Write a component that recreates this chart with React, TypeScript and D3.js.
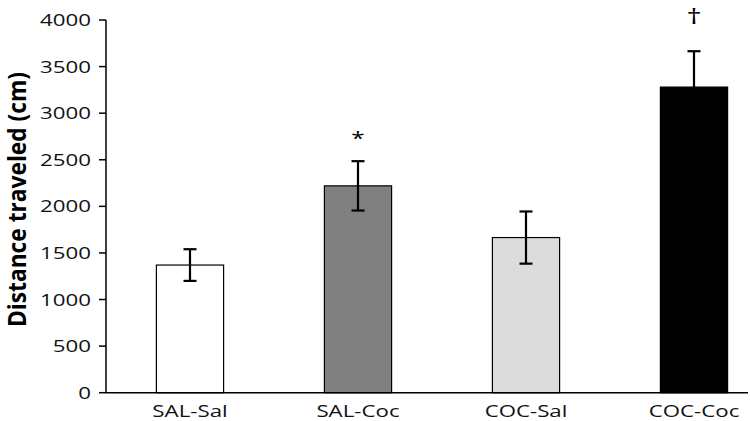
import React from "react";
import * as d3 from "d3";

const categories = ["SAL-Sal", "SAL-Coc", "COC-Sal", "COC-Coc"];
const means = [1370, 2220, 1665, 3280];
const errors = [170, 265, 280, 385];
const fills = ["#ffffff", "#808080", "#dcdcdc", "#000000"];
const marks = ["", "*", "", "†"];
const yTicks = [0, 500, 1000, 1500, 2000, 2500, 3000, 3500, 4000];

const W = 750;
const H = 421;
const SX = 1.35;
const FONT = "'Open Sans', sans-serif";

export default function App() {
  const x0 = 106;
  const y = d3.scaleLinear().domain([0, 4000]).range([392.7, 20]);
  const x = d3.scaleBand().domain(categories).range([x0, 778]).padding(0);
  const bw = x.bandwidth() * 0.4;
  const cap = 6.5;

  return (
    <svg width={W} height={H} style={{ display: "block", position: "absolute", left: 0, top: 0 }}>
      <rect width={W} height={H} fill="#fff" />
      {categories.map((c, i) => {
        const cx = (x(c) as number) + x.bandwidth() / 2;
        const top = y(means[i] + errors[i]);
        return (
          <g key={c}>
            <rect
              x={cx - bw / 2}
              y={y(means[i])}
              width={bw}
              height={y(0) - y(means[i])}
              fill={fills[i]}
              stroke="#000"
              strokeWidth={1.2}
            />
            <line x1={cx} x2={cx} y1={y(means[i] - errors[i])} y2={top} stroke="#000" strokeWidth={2.2} />
            <line x1={cx - cap} x2={cx + cap} y1={top} y2={top} stroke="#000" strokeWidth={2.2} />
            <line x1={cx - cap} x2={cx + cap} y1={y(means[i] - errors[i])} y2={y(means[i] - errors[i])} stroke="#000" strokeWidth={2.2} />
            {marks[i] && (
              <text
                transform={`translate(${cx},${top - (marks[i] === "*" ? 16 : 27)}) scale(${SX},1)`}
                textAnchor="middle"
                fontFamily={FONT}
                fontSize={marks[i] === "*" ? 18 : 22}
                fill="#000"
              >
                {marks[i]}
              </text>
            )}
            <text
              transform={`translate(${cx},${417}) scale(${SX},1)`}
              textAnchor="middle"
              fontFamily={FONT}
              fontSize={16.5}
              fill="#111"
            >
              {c}
            </text>
          </g>
        );
      })}
      <line x1={x0} x2={x0} y1={y(4000)} y2={y(0)} stroke="#000" strokeWidth={1.5} />
      <line x1={x0} x2={748} y1={y(0)} y2={y(0)} stroke="#000" strokeWidth={1.5} />
      {yTicks.map((t) => (
        <g key={t}>
          <line x1={x0 - 7} x2={x0} y1={y(t)} y2={y(t)} stroke="#000" strokeWidth={1.5} />
          <text
            transform={`translate(${91},${y(t) + 6}) scale(${SX},1)`}
            textAnchor="end"
            fontFamily={FONT}
            fontSize={16.5}
            fill="#111"
          >
            {t}
          </text>
        </g>
      ))}
      <text
        transform={`translate(${26},${327}) scale(1.4,1) rotate(-90)`}
        textAnchor="start"
        fontFamily={FONT}
        fontWeight="bold"
        fontSize={17.5}
        textLength={255}
        lengthAdjust="spacingAndGlyphs"
        fill="#000"
      >
        Distance traveled (cm)
      </text>
    </svg>
  );
}
